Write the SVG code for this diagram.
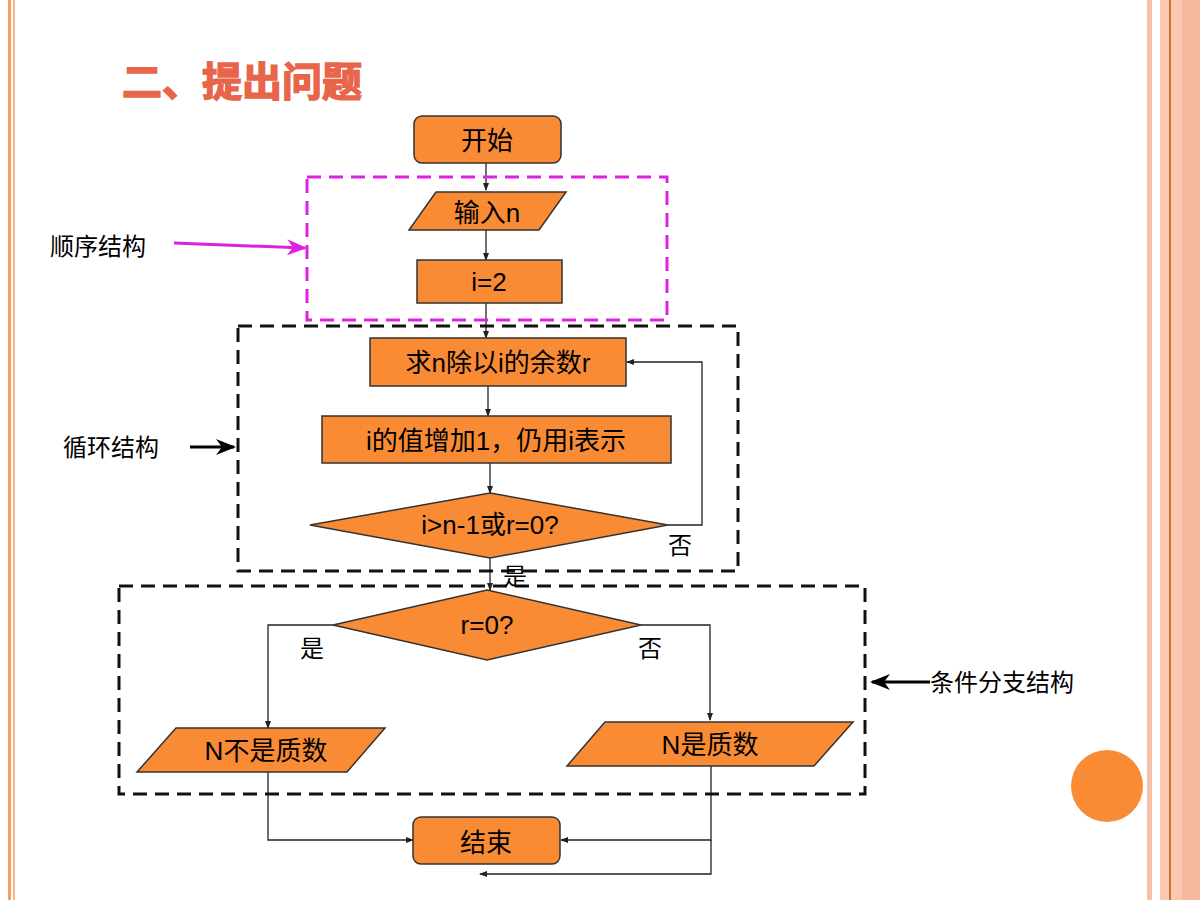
<svg xmlns="http://www.w3.org/2000/svg" width="1200" height="900" viewBox="0 0 1200 900">
<defs>
<style>
.n{fill:#f98b35;stroke:#333;stroke-width:1.5}
.t{font-family:"Liberation Sans","Noto Sans CJK SC",sans-serif;font-size:26px;fill:#000;text-anchor:middle}
.l{font-family:"Liberation Sans","Noto Sans CJK SC",sans-serif;font-size:24px;fill:#000}
.c{fill:none;stroke:#222;stroke-width:1.3}
.d{fill:none;stroke:#111;stroke-width:3;stroke-dasharray:14 8}
</style>
<marker id="a" markerWidth="8" markerHeight="6" refX="7" refY="3" orient="auto" markerUnits="userSpaceOnUse"><path d="M0,0L8,3L0,6z" fill="#222"/></marker>
<marker id="b" markerWidth="20" markerHeight="16" refX="18" refY="8" orient="auto" markerUnits="userSpaceOnUse"><path d="M0,0L20,8L0,16L6,8z" fill="#000"/></marker>
<marker id="m" markerWidth="20" markerHeight="16" refX="18" refY="8" orient="auto" markerUnits="userSpaceOnUse"><path d="M0,0L20,8L0,16L6,8z" fill="#e020e0"/></marker>
</defs>
<rect width="1200" height="900" fill="#fff"/>
<rect x="8" y="0" width="3" height="900" fill="#f5a060"/>
<rect x="13" y="0" width="2" height="900" fill="#f7b890"/>
<rect x="1147" y="0" width="5" height="900" fill="#f9c0a8"/>
<rect x="1160" y="0" width="40" height="900" fill="#fbc8b0"/>
<rect x="1169" y="0" width="2" height="900" fill="#d07030"/>
<rect x="1182" y="0" width="18" height="900" fill="#f8b8a0"/>
<circle cx="1107" cy="786" r="36" fill="#f98b35"/>
<text x="122" y="96" font-family="Liberation Sans,'Noto Sans CJK SC',sans-serif" font-size="40" font-weight="bold" fill="#e8654a" stroke="#e8654a" stroke-width="1.5">二、提出问题</text>
<g id="connectors">
<path class="c" d="M486,163V190" marker-end="url(#a)"/>
<path class="c" d="M486,230V260" marker-end="url(#a)"/>
<path class="c" d="M486,303V338" marker-end="url(#a)"/>
<path class="c" d="M488,386V416" marker-end="url(#a)"/>
<path class="c" d="M490,463V493" marker-end="url(#a)"/>
<path class="c" d="M668,525H702V362H627" marker-end="url(#a)"/>
<path class="c" d="M490,558V590" marker-end="url(#a)"/>
<path class="c" d="M333,625H268V728" marker-end="url(#a)"/>
<path class="c" d="M641,625H710V720" marker-end="url(#a)"/>
<path class="c" d="M268,772V840H413" marker-end="url(#a)"/>
<path class="c" d="M711,766V840H561" marker-end="url(#a)"/>
<path class="c" d="M711,840V874H480" marker-end="url(#a)"/>
<path d="M174,243L305,248" stroke="#e020e0" stroke-width="3" marker-end="url(#m)"/>
<path d="M190,447H234" stroke="#000" stroke-width="3" marker-end="url(#b)"/>
<path d="M930,682H872" stroke="#000" stroke-width="3" marker-end="url(#b)"/>
</g>
<rect x="307" y="177" width="360" height="143" fill="none" stroke="#e020e0" stroke-width="3" stroke-dasharray="14 8"/>
<rect class="d" x="238" y="326" width="500" height="245"/>
<rect class="d" x="119" y="586" width="746" height="208"/>
<g id="start"><rect class="n" x="414" y="116" width="147" height="47" rx="8"/><text class="t" x="487" y="150">开始</text></g>
<g id="input"><path class="n" d="M436,192H566L539,230H409z"/><text class="t" x="487" y="222" font-size="24">输入n</text></g>
<g id="init"><rect class="n" x="417" y="260" width="145" height="43"/><text class="t" x="489" y="291" font-size="24">i=2</text></g>
<g id="rem"><rect class="n" x="370" y="338" width="256" height="48"/><text class="t" x="498" y="372" font-size="24">求n除以i的余数r</text></g>
<g id="inc"><rect class="n" x="322" y="416" width="349" height="47"/><text class="t" x="496" y="450" font-size="24">i的值增加1，仍用i表示</text></g>
<g id="cond1"><path class="n" d="M490,493L668,525L490,558L310,525z"/><text class="t" x="490" y="534" font-size="24">i&gt;n-1或r=0?</text></g>
<g id="cond2"><path class="n" d="M487,590L641,625L487,660L333,625z"/><text class="t" x="487" y="634" font-size="24">r=0?</text></g>
<g id="notprime"><path class="n" d="M176,728H385L347,772H137z"/><text class="t" x="266" y="760">N不是质数</text></g>
<g id="prime"><path class="n" d="M605,722H853L814,766H567z"/><text class="t" x="710" y="754">N是质数</text></g>
<g id="end"><rect class="n" x="413" y="817" width="147" height="47" rx="8"/><text class="t" x="486" y="852">结束</text></g>
<text class="l" x="668" y="554">否</text>
<text class="l" x="503" y="585">是</text>
<text class="l" x="300" y="657">是</text>
<text class="l" x="638" y="657">否</text>
<text class="l" x="50" y="255" fill="#d01010">顺序结构</text>
<text class="l" x="63" y="456" fill="#d01010">循环结构</text>
<text class="l" x="930" y="691">条件分支结构</text>
</svg>
